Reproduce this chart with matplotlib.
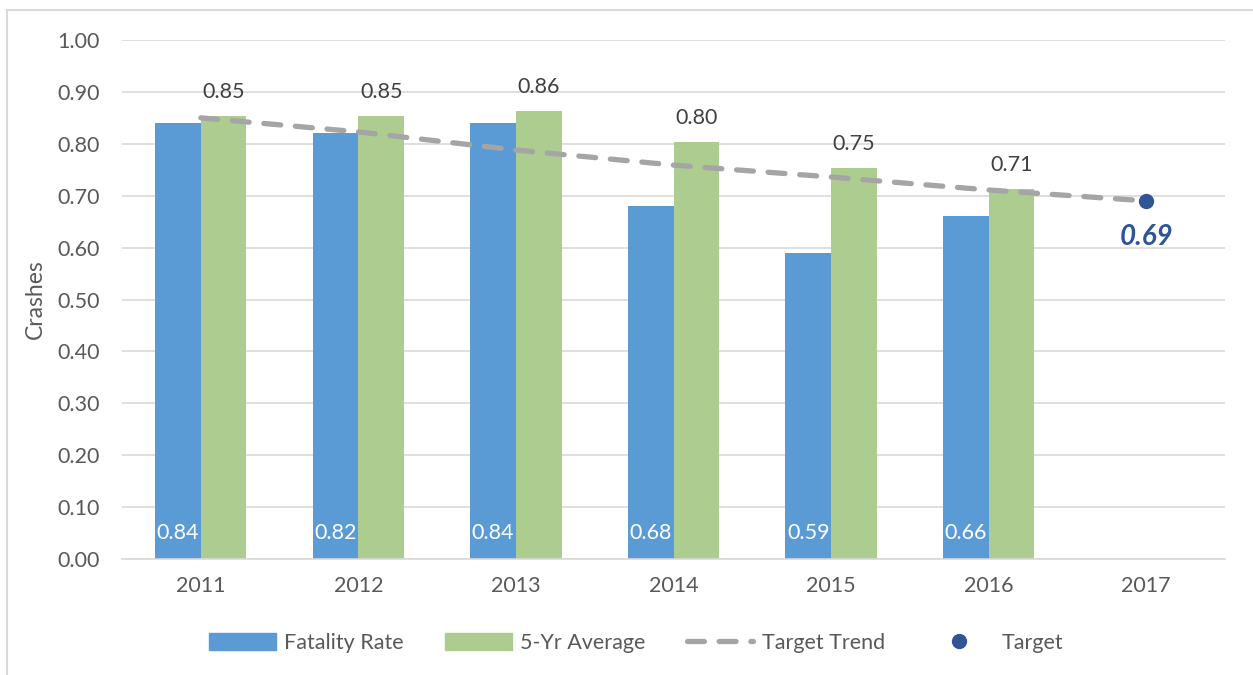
import matplotlib.pyplot as plt
from matplotlib.patches import Rectangle, Patch
from matplotlib.lines import Line2D
import numpy as np

YEARS = ['2011', '2012', '2013', '2014', '2015', '2016', '2017']
FATALITY_RATE = [0.84, 0.82, 0.84, 0.68, 0.59, 0.66]
FIVE_YR_AVG = [0.853, 0.853, 0.863, 0.803, 0.753, 0.713]
AVG_LABELS = ['0.85', '0.85', '0.86', '0.80', '0.75', '0.71']
TARGET_TREND = [0.85, 0.823, 0.788, 0.759, 0.736, 0.711, 0.69]
TARGET = 0.69

BLUE = '#5B9BD5'
GREEN = '#ADCC8F'
GRAY = '#A5A5A5'
DARKBLUE = '#2F5597'
TEXT = '#595959'

plt.rcParams['font.family'] = ['Lato', 'DejaVu Sans']

fig = plt.figure(figsize=(12.53, 6.75), dpi=100)
ax = fig.add_axes([122 / 1253, 116 / 675, 1103 / 1253, 519 / 675])

# outer frame (only top/left visible in the original crop)
fig.patches.append(Rectangle((7 / 1253, -0.1), 1.2, 1.1 - 10 / 675,
                             transform=fig.transFigure, fill=False,
                             edgecolor='#D9D9D9', linewidth=1.5))

x = np.arange(len(YEARS))
w = 0.29
xb = x[:len(FATALITY_RATE)]

ax.bar(xb - w / 2, FATALITY_RATE, width=w, color=BLUE, zorder=2)
ax.bar(xb + w / 2, FIVE_YR_AVG, width=w, color=GREEN, zorder=2)

for xi, v in zip(xb, FATALITY_RATE):
    ax.text(xi - w / 2, 0.05, f'{v:.2f}', color='white', fontsize=15.5,
            ha='center', va='center', zorder=4)
for xi, v, lab in zip(xb, FIVE_YR_AVG, AVG_LABELS):
    ax.text(xi + w / 2, v + 0.047, lab, color='#404040', fontsize=15.5,
            ha='center', va='center', zorder=4)

ax.plot(x, TARGET_TREND, color=GRAY, linewidth=3.8, dashes=(3.2, 2.8),
        solid_capstyle='round', dash_capstyle='round', zorder=3)
ax.plot([x[-1]], [TARGET], 'o', color=DARKBLUE, markersize=10, zorder=5)
ax.text(x[-1], TARGET - 0.07, f'{TARGET:.2f}', color=DARKBLUE,
        fontsize=20, fontweight='bold', fontstyle='italic',
        ha='center', va='center')

ax.set_xlim(-0.5, len(YEARS) - 0.5)
ax.set_ylim(0, 1.0)
ax.set_yticks(np.arange(0, 1.01, 0.1))
ax.set_yticklabels([f'{t:.2f}' for t in np.arange(0, 1.01, 0.1)])
ax.set_xticks(x)
ax.set_xticklabels(YEARS)
ax.tick_params(axis='both', length=0, labelsize=15.5, labelcolor=TEXT)
ax.tick_params(axis='y', pad=16)
ax.tick_params(axis='x', pad=12)
ax.yaxis.grid(True, color='#D9D9D9', linewidth=1.2, zorder=0)
ax.set_axisbelow(True)
for s in ['top', 'right', 'left']:
    ax.spines[s].set_visible(False)
ax.spines['bottom'].set_color('#D9D9D9')
ax.spines['bottom'].set_linewidth(1.2)

ax.set_ylabel('Crashes', fontsize=16.5, color=TEXT, labelpad=8)

handles = [
    Patch(facecolor=BLUE, edgecolor=BLUE),
    Patch(facecolor=GREEN, edgecolor=GREEN),
    Line2D([0], [0], color=GRAY, linewidth=3.8, dashes=(3.2, 2.8),
           dash_capstyle='round'),
    Line2D([0], [0], marker='o', color='none', markerfacecolor=DARKBLUE,
           markeredgecolor=DARKBLUE, markersize=10),
]
labels = ['Fatality Rate', '5-Yr Average', 'Target Trend', 'Target']
leg = fig.legend(handles, labels, loc='center', bbox_to_anchor=(636 / 1253, 1 - 643 / 675),
                 ncol=4, frameon=False, fontsize=15.5, handlelength=3.1,
                 handleheight=0.8, columnspacing=1.9, handletextpad=0.4)
for t in leg.get_texts():
    t.set_color(TEXT)

fig.savefig('out.png', dpi=100)
